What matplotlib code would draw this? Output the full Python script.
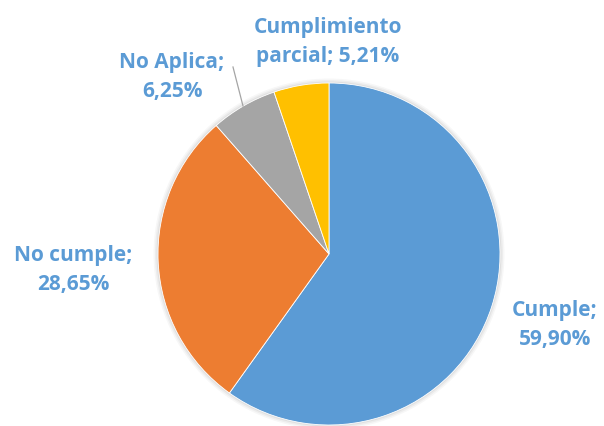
import matplotlib
matplotlib.use("Agg")
import matplotlib.pyplot as plt

categories = ["Cumple", "No cumple", "No Aplica", "Cumplimiento parcial"]
values = [59.90, 28.65, 6.25, 5.21]
colors = ["#5B9BD5", "#ED7D31", "#A5A5A5", "#FFC000"]
label_texts = ["Cumple;\n59,90%", "No cumple;\n28,65%", "No Aplica;\n6,25%", "Cumplimiento\nparcial; 5,21%"]

W, H = 604, 427
fig = plt.figure(figsize=(W / 100, H / 100), dpi=100)
ax = fig.add_axes([0, 0, 1, 1])
ax.set_xlim(0, W)
ax.set_ylim(0, H)
ax.set_aspect("equal")
ax.axis("off")

cx, cy, r = 329, H - 255, 171

# soft shadow
for i, a in enumerate([0.05, 0.04, 0.03]):
    c = plt.Circle((cx, cy), r + 1.5 + i * 1.5, color="black", alpha=a, lw=0, zorder=0)
    ax.add_patch(c)

ax.pie(values, colors=colors, startangle=90, counterclock=False,
       center=(cx, cy), radius=r, frame=True,
       wedgeprops=dict(linewidth=0.6, edgecolor="white"))
ax.set_xlim(0, W)
ax.set_ylim(0, H)
ax.axis("off")

label_pos = [(555, 325), (73, 270), (172, 77), (328, 42)]
for txt, (x, y) in zip(label_texts, label_pos):
    ax.text(x, H - y, txt, ha="center", va="center", fontsize=15,
            fontweight="bold", color="#5B9BD5", family="Open Sans",
            linespacing=1.45)

ax.plot([233, 243], [H - 68, H - 107], color="#A5A5A5", lw=0.9)

fig.savefig("out.png", dpi=100)
